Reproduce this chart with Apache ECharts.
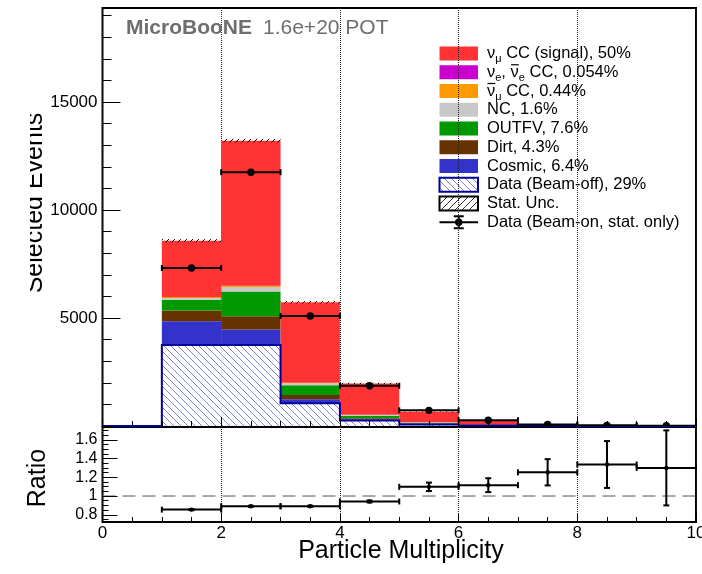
<!DOCTYPE html>
<html>
<head>
<meta charset="utf-8">
<title>Particle Multiplicity</title>
<script src="https://cdn.jsdelivr.net/npm/echarts@6.0.0/dist/echarts.min.js"></script>
<style>
  html, body { margin: 0; padding: 0; background: #ffffff; }
  #chart { width: 702px; height: 574px; }
</style>
</head>
<body>
<div id="chart"></div>
<script>
// Bin edges of the particle multiplicity histogram
const binEdges = [0, 1, 2, 3, 4, 5, 6, 7, 8, 9, 10];

// Predicted events per bin, one array per stack component (bottom to top)
const beamOff   = [0, 3750, 3750, 1050, 250, 75, 25, 8, 3, 2];
const cosmic    = [0, 1100, 720, 185, 60, 20, 6, 2, 0.8, 0.5];
const dirt      = [0, 495, 610, 200, 50, 15, 5, 1.5, 0.7, 0.5];
const outFV     = [0, 494, 1143, 450, 120, 45, 14, 4, 1.5, 1];
const ncEvents  = [0, 90, 215, 90, 35, 15, 5, 1.5, 0.7, 0.3];
const numubarCC = [0, 40, 50, 25, 10, 5, 2, 0.8, 0.2, 0.1];
const nueCC     = [0, 5, 5, 3, 1, 0.5, 0.2, 0.1, 0, 0];
const numuCC    = [0, 2606, 6717, 3724, 1442, 485, 183, 42, 15, 7.1];

// Statistical uncertainty of the summed prediction
const mcStatUnc = [0, 70, 80, 55, 30, 15, 8, 4, 2, 1];

// Beam-on data counts
const dataCounts = [0, 7315, 11745, 5093, 1860, 725, 268, 75, 30, 15];

// Data / prediction ratio and its uncertainty
const ratioValues = [null, 0.855, 0.891, 0.891, 0.942, 1.098, 1.116, 1.253, 1.336, 1.300];
const ratioErrors = [null, 0.006, 0.005, 0.006, 0.010, 0.045, 0.074, 0.140, 0.250, 0.400];

// Tick positions
const ratioYTickLabels = [0.8, 1, 1.2, 1.4, 1.6];
const ratioYMinorTicks = [0.75, 0.8, 0.85, 0.9, 0.95, 1, 1.05, 1.1, 1.15, 1.2, 1.25, 1.3,
                          1.35, 1.4, 1.45, 1.5, 1.55, 1.6, 1.65, 1.7];

// Legend texts
const legendLabels = [
  '{n|\u03bd}{s|\u03bc}{n| CC (signal), 50%}',
  '{n|\u03bd}{s|e}{n|, \u03bd}{s|e}{n| CC, 0.054%}',
  '{n|\u03bd}{s|\u03bc}{n| CC, 0.44%}',
  '{n|NC, 1.6%}',
  '{n|OUTFV, 7.6%}',
  '{n|Dirt, 4.3%}',
  '{n|Cosmic, 6.4%}',
  '{n|Data (Beam-off), 29%}',
  '{n|Stat. Unc.}',
  '{n|Data (Beam-on, stat. only)}'
];

const FONT = '"Liberation Sans", Arial, Helvetica, sans-serif';

const stackOrder = [
  { name: 'Data (Beam-off)', values: beamOff,   color: '#ffffff', hatch: true },
  { name: 'Cosmic',          values: cosmic,    color: '#3333cc' },
  { name: 'Dirt',            values: dirt,      color: '#663300' },
  { name: 'OUTFV',           values: outFV,     color: '#009900' },
  { name: 'NC',              values: ncEvents,  color: '#c8c8c8' },
  { name: 'numubar CC',      values: numubarCC, color: '#ff9900' },
  { name: 'nue CC',          values: nueCC,     color: '#cc00cc' },
  { name: 'numu CC',         values: numuCC,    color: '#ff3333' }
];
const legendColors = ['#ff3333', '#cc00cc', '#ff9900', '#c8c8c8', '#009900', '#663300', '#3333cc'];

function sumBelow(k, i) {
  let s = 0;
  for (let j = 0; j < k; j++) s += stackOrder[j].values[i];
  return s;
}
function stackTotal(i) { return sumBelow(stackOrder.length, i); }

// Diagonal hatch lines clipped to a pixel rectangle.
// dir > 0: lines falling to the right, dir < 0: lines rising to the right.
function hatchLines(x0, y0, x1, y1, step, dir, style) {
  const out = [];
  if (dir > 0) {
    const kMin = Math.ceil((y0 - x1) / step) * step;
    for (let k = kMin; k <= y1 - x0; k += step) {
      const xa = Math.max(x0, y0 - k), xb = Math.min(x1, y1 - k);
      if (xb > xa) out.push({ type: 'line', shape: { x1: xa, y1: xa + k, x2: xb, y2: xb + k }, style: style });
    }
  } else {
    const kMin = Math.ceil((x0 + y0) / step) * step;
    for (let k = kMin; k <= x1 + y1; k += step) {
      const xa = Math.max(x0, k - y1), xb = Math.min(x1, k - y0);
      if (xb > xa) out.push({ type: 'line', shape: { x1: xa, y1: k - xa, x2: xb, y2: k - xb }, style: style });
    }
  }
  return out;
}

const beamOffHatch = { stroke: '#8080d0', lineWidth: 1 };
const statHatch = { stroke: '#000000', lineWidth: 1 };

const series = [];

// Stacked prediction
stackOrder.forEach(function (comp, k) {
  series.push({
    type: 'custom',
    name: comp.name,
    coordinateSystem: 'cartesian2d',
    xAxisIndex: 0, yAxisIndex: 0,
    clip: true,
    z: 2,
    data: comp.values.map(function (v, i) { return [i, v]; }),
    renderItem: function (params, api) {
      const i = api.value(0), v = api.value(1);
      if (!(v > 0)) return;
      const b = sumBelow(k, i);
      const p0 = api.coord([binEdges[i], b + v]);
      const p1 = api.coord([binEdges[i + 1], b]);
      const shape = { x: p0[0], y: p0[1], width: p1[0] - p0[0], height: p1[1] - p0[1] };
      if (comp.hatch) {
        return {
          type: 'group',
          children: [{ type: 'rect', shape: shape, style: { fill: '#ffffff' } }]
            .concat(hatchLines(p0[0], p0[1], p1[0], p1[1], 7, 1, beamOffHatch))
        };
      }
      return { type: 'rect', shape: shape, style: { fill: comp.color } };
    }
  });
});

// Beam-off outline
series.push({
  type: 'custom',
  name: 'Beam-off outline',
  coordinateSystem: 'cartesian2d',
  xAxisIndex: 0, yAxisIndex: 0,
  clip: false,
  z: 3,
  data: [[0, 0]],
  renderItem: function (params, api) {
    const pts = [];
    for (let i = 0; i < beamOff.length; i++) {
      pts.push(api.coord([binEdges[i], beamOff[i]]));
      pts.push(api.coord([binEdges[i + 1], beamOff[i]]));
    }
    return { type: 'polyline', shape: { points: pts }, style: { stroke: '#000099', lineWidth: 2, fill: null } };
  }
});

// Statistical uncertainty band on the total
series.push({
  type: 'custom',
  name: 'Stat. Unc.',
  coordinateSystem: 'cartesian2d',
  xAxisIndex: 0, yAxisIndex: 0,
  clip: true,
  z: 4,
  data: mcStatUnc.map(function (e, i) { return [i, e]; }),
  renderItem: function (params, api) {
    const i = api.value(0), e = api.value(1);
    if (!(e > 0)) return;
    const t = stackTotal(i);
    const p0 = api.coord([binEdges[i], t + e]);
    const p1 = api.coord([binEdges[i + 1], t - e]);
    return { type: 'group', children: hatchLines(p0[0], p0[1], p1[0], p1[1], 6, -1, statHatch) };
  }
});

// Beam-on data points
series.push({
  type: 'custom',
  name: 'Data (Beam-on, stat. only)',
  coordinateSystem: 'cartesian2d',
  xAxisIndex: 0, yAxisIndex: 0,
  clip: true,
  z: 6,
  data: dataCounts.map(function (d, i) { return [i, d]; }),
  renderItem: function (params, api) {
    const i = api.value(0), d = api.value(1);
    if (!(d > 0)) return;
    const err = Math.sqrt(d);
    const xc = (binEdges[i] + binEdges[i + 1]) / 2;
    const pL = api.coord([binEdges[i], d]), pR = api.coord([binEdges[i + 1], d]);
    const pT = api.coord([xc, d + err]), pB = api.coord([xc, d - err]);
    const pC = api.coord([xc, d]);
    const st = { stroke: '#000', lineWidth: 2 };
    return {
      type: 'group',
      children: [
        { type: 'line', shape: { x1: pL[0], y1: pL[1], x2: pR[0], y2: pR[1] }, style: st },
        { type: 'line', shape: { x1: pL[0], y1: pL[1] - 3, x2: pL[0], y2: pL[1] + 3 }, style: st },
        { type: 'line', shape: { x1: pR[0], y1: pR[1] - 3, x2: pR[0], y2: pR[1] + 3 }, style: st },
        { type: 'line', shape: { x1: pT[0], y1: pT[1], x2: pB[0], y2: pB[1] }, style: st },
        { type: 'circle', shape: { cx: pC[0], cy: pC[1], r: 3.7 }, style: { fill: '#000' } }
      ]
    };
  }
});

// Ratio reference line
series.push({
  type: 'line',
  name: 'unity',
  xAxisIndex: 2, yAxisIndex: 2,
  data: [[0, 1], [10, 1]],
  symbol: 'none',
  silent: true,
  z: 2,
  lineStyle: { color: '#555555', width: 1, type: [13, 7] }
});

// Ratio points
series.push({
  type: 'custom',
  name: 'Ratio',
  coordinateSystem: 'cartesian2d',
  xAxisIndex: 2, yAxisIndex: 2,
  clip: true,
  z: 6,
  data: ratioValues.map(function (r, i) { return [i, r, ratioErrors[i]]; }),
  renderItem: function (params, api) {
    const i = api.value(0), r = api.value(1), e = api.value(2);
    if (!(r > 0)) return;
    const xc = (binEdges[i] + binEdges[i + 1]) / 2;
    const pL = api.coord([binEdges[i], r]), pR = api.coord([binEdges[i + 1], r]);
    const pT = api.coord([xc, r + e]), pB = api.coord([xc, r - e]);
    const pC = api.coord([xc, r]);
    const st = { stroke: '#000', lineWidth: 2 };
    return {
      type: 'group',
      children: [
        { type: 'line', shape: { x1: pL[0], y1: pL[1], x2: pR[0], y2: pR[1] }, style: st },
        { type: 'line', shape: { x1: pL[0], y1: pL[1] - 3, x2: pL[0], y2: pL[1] + 3 }, style: st },
        { type: 'line', shape: { x1: pR[0], y1: pR[1] - 3, x2: pR[0], y2: pR[1] + 3 }, style: st },
        { type: 'line', shape: { x1: pT[0], y1: pT[1], x2: pB[0], y2: pB[1] }, style: st },
        { type: 'line', shape: { x1: pT[0] - 3, y1: pT[1], x2: pT[0] + 3, y2: pT[1] }, style: st },
        { type: 'line', shape: { x1: pB[0] - 3, y1: pB[1], x2: pB[0] + 3, y2: pB[1] }, style: st },
        { type: 'circle', shape: { cx: pC[0], cy: pC[1], r: 2.2 }, style: { fill: '#000' } }
      ]
    };
  }
});

// Legend drawn as graphic elements
const measureCtx = document.createElement('canvas').getContext('2d');
function textWidth(str, size) {
  measureCtx.font = size + 'px ' + FONT;
  return measureCtx.measureText(str).width;
}
const LEG = { boxX: 439.5, boxW: 38.5, boxH: 14, textX: 487, y0: 53.5, dy: 18.75, font: 16.5, sub: 11 };
const legendGraphics = [];
legendLabels.forEach(function (label, r) {
  const cy = LEG.y0 + r * LEG.dy;
  const bx0 = LEG.boxX, bx1 = LEG.boxX + LEG.boxW, by0 = cy - LEG.boxH / 2, by1 = cy + LEG.boxH / 2;
  if (r < legendColors.length) {
    legendGraphics.push({ type: 'rect', shape: { x: bx0, y: by0, width: LEG.boxW, height: LEG.boxH }, style: { fill: legendColors[r] } });
  } else if (r === 7 || r === 8) {
    const hatched = r === 7
      ? hatchLines(bx0, by0, bx1, by1, 7, 1, beamOffHatch)
      : hatchLines(bx0, by0, bx1, by1, 7, -1, { stroke: '#333', lineWidth: 1 });
    legendGraphics.push({ type: 'rect', shape: { x: bx0, y: by0, width: LEG.boxW, height: LEG.boxH }, style: { fill: '#fff' } });
    hatched.forEach(function (h) { legendGraphics.push(h); });
    legendGraphics.push({ type: 'rect', shape: { x: bx0, y: by0, width: LEG.boxW, height: LEG.boxH },
      style: { fill: null, stroke: r === 7 ? '#000099' : '#000', lineWidth: 2 } });
  } else {
    const st = { stroke: '#000', lineWidth: 2 };
    const mx = (bx0 + bx1) / 2;
    legendGraphics.push({ type: 'line', shape: { x1: bx0, y1: cy, x2: bx1, y2: cy }, style: st });
    legendGraphics.push({ type: 'line', shape: { x1: mx, y1: cy - 6, x2: mx, y2: cy + 6 }, style: st });
    legendGraphics.push({ type: 'line', shape: { x1: mx - 5, y1: cy - 6, x2: mx + 5, y2: cy - 6 }, style: st });
    legendGraphics.push({ type: 'line', shape: { x1: mx - 5, y1: cy + 6, x2: mx + 5, y2: cy + 6 }, style: st });
    legendGraphics.push({ type: 'circle', shape: { cx: mx, cy: cy, r: 3.7 }, style: { fill: '#000' } });
  }
  legendGraphics.push({
    type: 'text', x: LEG.textX, y: cy,
    style: {
      text: label, align: 'left', verticalAlign: 'middle',
      rich: {
        n: { fontSize: LEG.font, fontFamily: FONT, fill: '#000', lineHeight: 22, verticalAlign: 'middle' },
        s: { fontSize: LEG.sub, fontFamily: FONT, fill: '#000', verticalAlign: 'bottom' }
      }
    }
  });
});
// Bars over the antineutrino symbols
(function () {
  const wNu = textWidth('\u03bd', LEG.font);
  const cy2 = LEG.y0 + 1 * LEG.dy, cy3 = LEG.y0 + 2 * LEG.dy;
  const x2 = LEG.textX + wNu + textWidth('e', LEG.sub) + textWidth(', ', LEG.font);
  const st = { stroke: '#000', lineWidth: 1.2 };
  legendGraphics.push({ type: 'line', shape: { x1: x2 + 0.5, y1: cy2 - 7.5, x2: x2 + wNu, y2: cy2 - 7.5 }, style: st });
  legendGraphics.push({ type: 'line', shape: { x1: LEG.textX + 0.5, y1: cy3 - 7.5, x2: LEG.textX + wNu, y2: cy3 - 7.5 }, style: st });
})();

const tickLine = { color: '#000', width: 1 };
const plainNumber = function (v) { return String(v); };

const option = {
  animation: false,
  backgroundColor: '#ffffff',
  grid: [
    { left: 102.5, top: 8, width: 593.5, height: 418, show: true, borderColor: '#000', borderWidth: 2,
      backgroundColor: 'transparent', outerBoundsMode: 'none', containLabel: false },
    { left: 102.5, top: 427, width: 593.5, height: 95, show: true, borderColor: '#000', borderWidth: 2,
      backgroundColor: 'transparent', outerBoundsMode: 'none', containLabel: false }
  ],
  xAxis: [
    { gridIndex: 0, type: 'value', min: 0, max: 10, interval: 2, z: 0,
      axisLine: { show: false }, axisTick: { show: false }, axisLabel: { show: false },
      splitLine: { show: true, lineStyle: { type: 'dotted', color: '#222', width: 1 } } },
    { gridIndex: 0, type: 'value', position: 'bottom', min: 0, max: 10, interval: 2, z: 10,
      axisLine: { show: false }, splitLine: { show: false }, axisLabel: { show: false },
      axisTick: { show: true, inside: true, length: 9, lineStyle: tickLine },
      minorTick: { show: true, splitNumber: 4, length: 5, lineStyle: tickLine } },
    { gridIndex: 1, type: 'value', min: 0, max: 10, interval: 2, z: 0,
      axisLine: { show: false }, axisTick: { show: false }, axisLabel: { show: false },
      splitLine: { show: true, lineStyle: { type: 'dotted', color: '#222', width: 1 } } },
    { gridIndex: 1, type: 'value', position: 'bottom', min: 0, max: 10, interval: 2, z: 10,
      axisLine: { show: false }, splitLine: { show: false },
      axisTick: { show: true, inside: true, length: 9, lineStyle: tickLine },
      minorTick: { show: true, splitNumber: 4, length: 5, lineStyle: tickLine },
      axisLabel: { show: true, fontSize: 17, fontFamily: FONT, color: '#000', margin: 3,
                   formatter: plainNumber, hideOverlap: false } }
  ],
  yAxis: [
    { gridIndex: 0, type: 'value', position: 'left', min: 0, max: 19350, interval: 1000, z: 10,
      axisLine: { show: false }, splitLine: { show: false }, axisLabel: { show: false },
      axisTick: { show: true, inside: true, length: 9, lineStyle: tickLine } },
    { gridIndex: 0, type: 'value', position: 'left', min: 0, max: 19350, interval: 5000, z: 10,
      axisLine: { show: false }, splitLine: { show: false },
      axisTick: { show: true, inside: true, length: 18, lineStyle: tickLine },
      axisLabel: { show: true, fontSize: 17, fontFamily: FONT, color: '#000', margin: 5,
                   showMinLabel: false, showMaxLabel: false, formatter: plainNumber } },
    { gridIndex: 1, type: 'value', position: 'left', min: 0.723, max: 1.736, z: 10,
      axisLine: { show: false }, splitLine: { show: false }, axisLabel: { show: false },
      axisTick: { show: true, inside: true, length: 6, lineStyle: tickLine, customValues: ratioYMinorTicks } },
    { gridIndex: 1, type: 'value', position: 'left', min: 0.723, max: 1.736, z: 10,
      axisLine: { show: false }, splitLine: { show: false },
      axisTick: { show: true, inside: true, length: 15, lineStyle: tickLine, customValues: ratioYTickLabels },
      axisLabel: { show: true, fontSize: 16, fontFamily: FONT, color: '#000', margin: 5,
                   customValues: ratioYTickLabels, formatter: plainNumber } }
  ],
  series: series,
  graphic: [
    { type: 'text', x: 126, y: 28, z: 20,
      style: { text: 'MicroBooNE', font: 'bold 21px ' + FONT, fill: '#6e6e6e', verticalAlign: 'middle' } },
    { type: 'text', x: 263, y: 28, z: 20,
      style: { text: '1.6e+20 POT', font: '21px ' + FONT, fill: '#6e6e6e', verticalAlign: 'middle' } },
    { type: 'text', x: 35, y: 203, rotation: Math.PI / 2, z: 20,
      style: { text: 'Selected Events', font: '25px ' + FONT, fill: '#000', align: 'center', verticalAlign: 'middle' } },
    { type: 'rect', shape: { x: 0, y: 60, width: 30, height: 300 }, z: 21, style: { fill: '#ffffff' } },
    { type: 'text', x: 38, y: 478, rotation: Math.PI / 2, z: 20,
      style: { text: 'Ratio', font: '25px ' + FONT, fill: '#000', align: 'center', verticalAlign: 'middle' } },
    { type: 'text', x: 401, y: 551, z: 20,
      style: { text: 'Particle Multiplicity', font: '25px ' + FONT, fill: '#000', align: 'center', verticalAlign: 'middle' } },
    { type: 'group', z: 20, children: legendGraphics }
  ]
};

const chart = echarts.init(document.getElementById('chart'), null, { renderer: 'canvas' });
chart.setOption(option);
</script>
</body>
</html>
